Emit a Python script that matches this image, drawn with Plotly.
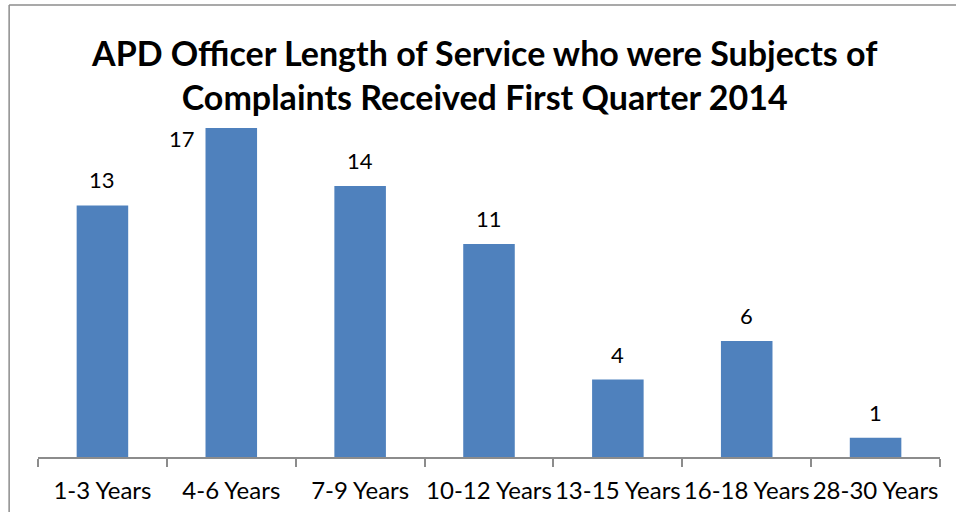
import plotly.graph_objs as go

service_bands = [
    "1-3 Years",
    "4-6 Years",
    "7-9 Years",
    "10-12 Years",
    "13-15 Years",
    "16-18 Years",
    "28-30 Years",
]
officer_counts = [13, 17, 14, 11, 4, 6, 1]

BAR_COLOR = "#4F81BD"
FONT = "Lato"
FRAME = {"color": "#8C8C8C", "width": 1.5}

fig = go.Figure(
    go.Bar(x=service_bands, y=officer_counts, marker_color=BAR_COLOR, marker_line_width=0)
)

# Data labels: above each bar, except the tallest one which Excel nudges left
top = max(officer_counts)
for band, count in zip(service_bands, officer_counts):
    if count == top:
        fig.add_annotation(
            x=band, y=count, text=str(count), showarrow=False,
            xanchor="right", yanchor="middle", xshift=-34, yshift=-10,
        )
    else:
        fig.add_annotation(
            x=band, y=count, text=str(count), showarrow=False,
            xanchor="center", yanchor="bottom", yshift=10,
        )

fig.update_layout(
    width=956,
    height=512,
    margin={"t": 128, "b": 55, "l": 38, "r": 16, "autoexpand": False},
    paper_bgcolor="white",
    plot_bgcolor="white",
    font={"family": FONT, "size": 22, "color": "#000000"},
    bargap=0.6,
    showlegend=False,
    title={
        "text": "<b>APD Officer Length of Service who were Subjects of<br>"
        "Complaints Received First Quarter 2014</b>",
        "x": 0.507,
        "xanchor": "center",
        "xref": "container",
        "y": 0.872,
        "yanchor": "middle",
        "yref": "container",
        "font": {"family": FONT, "size": 34, "color": "#000000"},
    },
    xaxis={
        "automargin": False,
        "showline": True,
        "linecolor": "#8C8C8C",
        "linewidth": 1.5,
        "ticks": "outside",
        "tickson": "boundaries",
        "ticklen": 8,
        "tickcolor": "#8C8C8C",
        "tickwidth": 1.5,
        "tickangle": 0,
        "ticklabelstandoff": 11,
        "tickfont": {"size": 24},
        "showgrid": False,
        "fixedrange": True,
    },
    yaxis={
        "range": [0, top],
        "visible": False,
        "showgrid": False,
        "zeroline": False,
        "automargin": False,
        "fixedrange": True,
    },
    shapes=[
        # chart frame: only left and top edges are inside the cropped picture
        dict(type="line", xref="paper", yref="paper",
             x0=-0.032, x1=-0.032, y0=-0.5, y1=1.374, line=FRAME),
        dict(type="line", xref="paper", yref="paper",
             x0=-0.032, x1=1.2, y0=1.374, y1=1.374, line=FRAME),
    ],
)

# drop the default body margin and any scrollbar so the chart fills the window
fig.write_html(
    "out.html",
    config={"displayModeBar": False},
    post_script="document.body.style.margin='0';"
    "document.body.style.overflow='hidden';"
    "document.documentElement.style.overflow='hidden';",
)
